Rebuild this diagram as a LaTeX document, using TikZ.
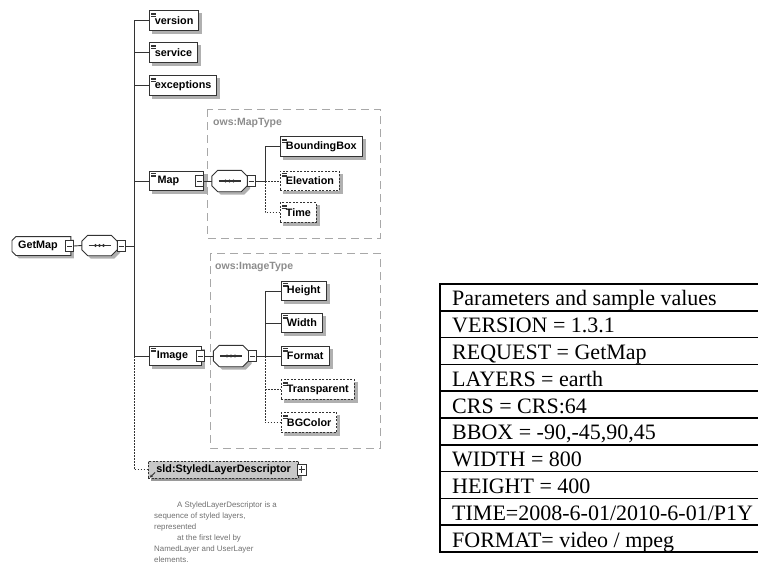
\documentclass[tikz,border=0pt]{standalone}
\usepackage{fontspec}
\setmainfont{Liberation Serif}
\setsansfont{Liberation Sans}
\usetikzlibrary{arrows.meta}

\pgfdeclarelayer{bg}
\pgfsetlayers{bg,main}

\definecolor{ln}{HTML}{333333}
\definecolor{grp}{HTML}{A8A8A8}
\definecolor{grptext}{HTML}{8C8C8C}
\definecolor{shd}{HTML}{B0B0B0}
\definecolor{sldshd}{HTML}{9A9A9A}
\definecolor{sldfill}{HTML}{C8C8C8}
\definecolor{note}{HTML}{707070}

\tikzset{
 base/.style={font=\sffamily\bfseries\fontsize{10.8}{12}\selectfont, text=black, draw=ln,
   line width=0.9pt, fill=white, inner xsep=5.5pt, inner ysep=0pt, minimum height=19.5pt, anchor=west},
 icon/.style={path picture={\foreach \k in {0,1,2}{\draw[solid, line width=0.5pt, ln]
   ([xshift=2pt, yshift=-2pt-\k*1.5pt]path picture bounding box.north west) -- ++(5pt,0pt);}}},
 elem/.style={base, icon},
 optelem/.style={base, icon, dash pattern=on 2pt off 1.5pt},
 seqspot/.style={rectangle, draw=none, fill=none, minimum width=35pt, minimum height=21pt, inner sep=0pt},
 octo/.style={draw=ln, line width=0.9pt, fill=white},
 btn/.style={rectangle, draw=ln, line width=0.8pt, fill=white, minimum width=8pt, minimum height=11pt, inner sep=0pt,
   path picture={\draw[ln, line width=0.8pt] ([xshift=1.5pt]path picture bounding box.west) -- ([xshift=-1.5pt]path picture bounding box.east);}},
 btnplus/.style={rectangle, draw=ln, line width=0.8pt, fill=white, minimum width=9pt, minimum height=11pt, inner sep=0pt,
   path picture={\draw[ln, line width=0.8pt] ([xshift=1.5pt]path picture bounding box.west) -- ([xshift=-1.5pt]path picture bounding box.east);
     \draw[ln, line width=0.8pt] ([yshift=-2pt]path picture bounding box.north) -- ([yshift=2pt]path picture bounding box.south);}},
 conn/.style={draw=ln, line width=0.9pt},
 dotconn/.style={draw=ln, line width=0.9pt, dash pattern=on 1.5pt off 1.5pt},
 grpbox/.style={draw=grp, line width=1pt, dash pattern=on 8pt off 5pt},
 grplabel/.style={font=\sffamily\bfseries\fontsize{10.5}{12}\selectfont, text=grptext, anchor=west, inner sep=0pt},
 tabtext/.style={font=\fontsize{22}{24}\selectfont, anchor=base west, inner sep=0pt},
 tabline/.style={line width=1.6pt, draw=black}
}

% shadow behind a rectangular node
\newcommand\shadowfor[2][shd]{%
 \begin{pgfonlayer}{bg}
  \fill[#1] ([xshift=3pt,yshift=-3pt]#2.south west) rectangle ([xshift=3pt,yshift=-3pt]#2.north east);
 \end{pgfonlayer}}

% octagon outline round node #1, offset by #2 (x) and #3 (y)
\newcommand\octpath[3]{([xshift=#2+6pt,yshift=#3]#1.north west) -- ([xshift=#2-6pt,yshift=#3]#1.north east)
   -- ([xshift=#2,yshift=#3-6pt]#1.north east) -- ([xshift=#2,yshift=#3+6pt]#1.south east)
   -- ([xshift=#2-6pt,yshift=#3]#1.south east) -- ([xshift=#2+6pt,yshift=#3]#1.south west)
   -- ([xshift=#2,yshift=#3+6pt]#1.south west) -- ([xshift=#2,yshift=#3-6pt]#1.north west) -- cycle}

% sequence compositor drawn round an invisible node
\newcommand\seqdraw[1]{%
 \begin{pgfonlayer}{bg}
  \fill[shd] \octpath{#1}{3pt}{-3pt};
 \end{pgfonlayer}
 \draw[octo] \octpath{#1}{0pt}{0pt};
 \draw[ln, line width=1.1pt] ([xshift=-11pt]#1.center) -- ([xshift=11pt]#1.center);
 \foreach \dx in {-4,0,4}{\fill[ln] ([xshift=\dx pt]#1.center) circle (1.7pt);}}

\begin{document}
\begin{tikzpicture}[x=1pt, y=-1pt]
\useasboundingbox (0,0) rectangle (758,565);

% group boxes
\draw[grpbox] (207,109) rectangle (380,238);
\node[grplabel] (maptype) at (213,123) {ows:MapType};
\draw[grpbox] (210,253) rectangle (380,448);
\node[grplabel] (imagetype) at (215,267) {ows:ImageType};

% root element (left corners cut)
\node[base, draw=none, fill=none, minimum width=58pt, minimum height=18pt] (getmap) at (12,246) {GetMap\kern7pt};
\begin{pgfonlayer}{bg}
 \fill[shd] ([xshift=7pt,yshift=-3pt]getmap.north west) -- ([xshift=3pt,yshift=-3pt]getmap.north east) -- ([xshift=3pt,yshift=-3pt]getmap.south east)
   -- ([xshift=7pt,yshift=-3pt]getmap.south west) -- ([xshift=3pt,yshift=1pt]getmap.south west) -- ([xshift=3pt,yshift=-7pt]getmap.north west) -- cycle;
 \draw[ln, line width=0.9pt, fill=white] ([xshift=4pt]getmap.north west) -- (getmap.north east) -- (getmap.south east)
   -- ([xshift=4pt]getmap.south west) -- ([yshift=4pt]getmap.south west) -- ([yshift=-4pt]getmap.north west) -- cycle;
\end{pgfonlayer}
\node[btn] (getmapbtn) at (69.5,246) {};
\node[seqspot, minimum height=20pt] (seq1) at (99.5,245.5) {};
\seqdraw{seq1}
\node[btn] (seq1btn) at (121,246) {};

% trunk coordinates
\coordinate (tA) at (134,0);
\coordinate (tB) at (265,0);

% first-level children
\node[elem] (version) at (149,20.5) {version};
\node[elem] (service) at (149,52.5) {service};
\node[elem] (exceptions) at (149,85.5) {exceptions};
\node[elem, minimum width=54pt] (map) at (149,181) {Map\kern16pt};
\node[btn] (mapbtn) at (199,181) {};
\node[elem, minimum width=52pt] (image) at (149,356) {Image\kern6pt};
\node[btn] (imagebtn) at (200.5,356) {};

% map content
\node[seqspot] (mapseq) at (229.5,181) {};
\seqdraw{mapseq}
\node[btn] (mapseqbtn) at (251,181) {};
\node[elem] (bbox) at (280,146.5) {BoundingBox};
\node[optelem] (elev) at (280,181) {Elevation};
\node[optelem] (time) at (280,212.5) {Time};

% image content
\node[seqspot] (imgseq) at (231,356) {};
\seqdraw{imgseq}
\node[btn] (imgseqbtn) at (252.5,356) {};
\node[elem] (height) at (281,291) {Height};
\node[elem] (width) at (281,323) {Width};
\node[elem] (format) at (281,356) {Format};
\node[optelem] (transp) at (281,389.5) {Transparent};
\node[optelem] (bgcolor) at (281,422.5) {BGColor};

\shadowfor{version}\shadowfor{service}\shadowfor{exceptions}\shadowfor{map}\shadowfor{image}
\shadowfor{bbox}\shadowfor{elev}\shadowfor{time}
\shadowfor{height}\shadowfor{width}\shadowfor{format}\shadowfor{transp}\shadowfor{bgcolor}

% sld reference
\node[base, fill=sldfill, dash pattern=on 2pt off 1.5pt, inner xsep=8pt, minimum height=17pt] (sld) at (148,469.5) {sld:StyledLayerDescriptor};
\shadowfor[sldshd]{sld}
\node[btnplus] (sldbtn) at (301.5,469.5) {};
\draw[ln, line width=0.8pt, -{Stealth[length=3pt,width=3pt]}] ([xshift=7pt,yshift=6pt]sld.south west) -- ([xshift=2pt,yshift=1pt]sld.south west);

% annotation
\node[anchor=north west, inner sep=0pt, align=left, font=\sffamily\fontsize{7.9}{11}\selectfont, text=note] (doc) at (154,501.5)
 {\hspace*{23pt}A StyledLayerDescriptor is a\\sequence of styled layers,\\represented\\\hspace*{23pt}at the first level by\\NamedLayer and UserLayer\\elements.};

% connectors
\draw[conn] (getmapbtn.east) -- (seq1.west);
\draw[conn] (seq1btn.east) -- (seq1btn.east -| tA);
\draw[conn] (version.west -| tA) -- (image.west -| tA);
\foreach \n in {version,service,exceptions,map,image}{\draw[conn] (\n.west -| tA) -- (\n.west);}
\draw[dotconn] (image.west -| tA) -- (sld.west -| tA) -- (sld.west);

\draw[conn] (mapbtn.east) -- (mapseq.west);
\draw[conn] (mapseqbtn.east) -- (mapseqbtn.east -| tB);
\draw[conn] (bbox.west) -- (bbox.west -| tB) -- (mapseqbtn.east -| tB);
\draw[dotconn] (mapseqbtn.east -| tB) -- (time.west -| tB) -- (time.west);
\draw[dotconn] (elev.west -| tB) -- (elev.west);

\draw[conn] (imagebtn.east) -- (imgseq.west);
\draw[conn] (imgseqbtn.east) -- (imgseqbtn.east -| tB);
\draw[conn] (height.west) -- (height.west -| tB) -- (imgseqbtn.east -| tB);
\draw[conn] (width.west -| tB) -- (width.west);
\draw[conn] (format.west -| tB) -- (format.west);
\draw[dotconn] (imgseqbtn.east -| tB) -- (bgcolor.west -| tB) -- (bgcolor.west);
\draw[dotconn] (transp.west -| tB) -- (transp.west);

% table
\foreach \i in {0,...,10}{\draw[tabline] (440,{284+\i*26.8}) -- (758,{284+\i*26.8});}
\draw[tabline] (440,283.2) -- (440,552.8);
\foreach \t [count=\i] in {Parameters and sample values, VERSION = 1.3.1, REQUEST = GetMap, LAYERS = earth,
  CRS = CRS:64, {BBOX = -90,-45,90,45}, WIDTH = 800, HEIGHT = 400, TIME=2008-6-01/2010-6-01/P1Y, FORMAT= video / mpeg}
  {\node[tabtext] (row\i) at (452,{284+\i*26.8-5}) {\t};}
\end{tikzpicture}
\end{document}
